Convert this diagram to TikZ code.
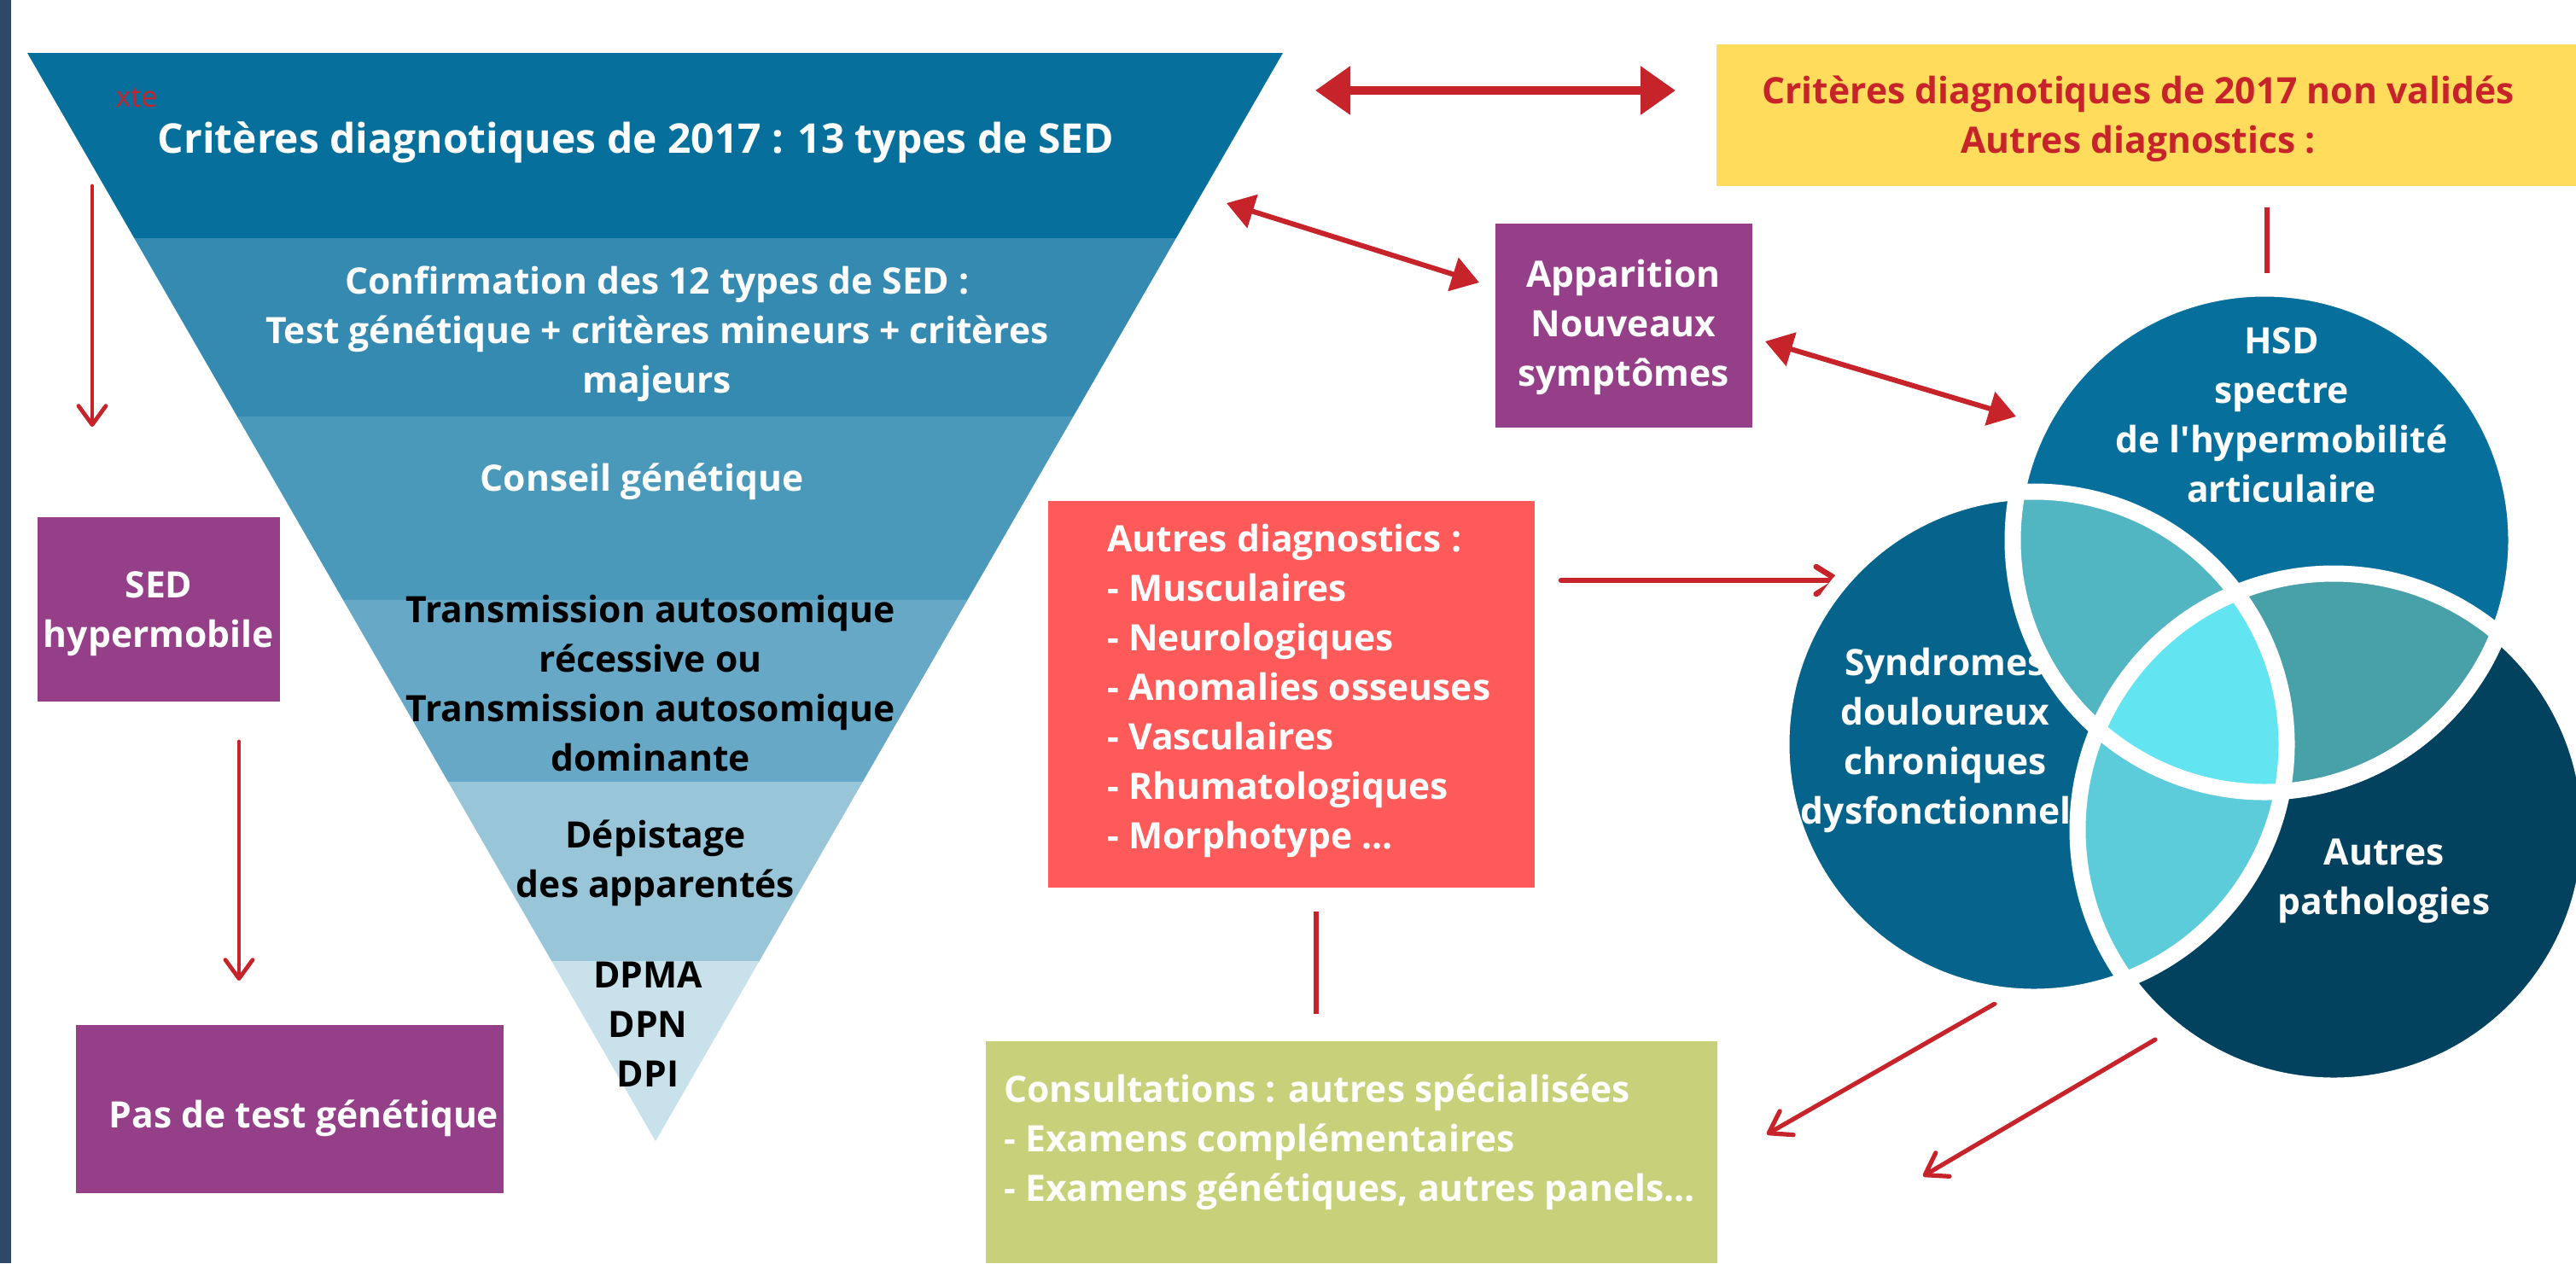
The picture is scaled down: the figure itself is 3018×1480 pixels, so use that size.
\documentclass[tikz,border=0pt]{standalone}
\usepackage{fontspec}
\setmainfont{Open Sans}[Ligatures=TeXOff]
\usetikzlibrary{arrows.meta,fit}
\definecolor{barc}{HTML}{2F4868}
\definecolor{bandA}{HTML}{066F9C}
\definecolor{bandB}{HTML}{358AB1}
\definecolor{bandC}{HTML}{4A99BB}
\definecolor{bandD}{HTML}{66A8C5}
\definecolor{bandE}{HTML}{99C5D9}
\definecolor{bandF}{HTML}{C9E1EA}
\definecolor{purp}{HTML}{943F88}
\definecolor{redbox}{HTML}{FF5A5A}
\definecolor{yell}{HTML}{FFDC5C}
\definecolor{greenbox}{HTML}{C6D17A}
\definecolor{arrred}{HTML}{C6242A}
\definecolor{hsdc}{HTML}{066F9C}
\definecolor{syndc}{HTML}{05638C}
\definecolor{autc}{HTML}{02425F}
\definecolor{hsOv}{HTML}{52B6C2}
\definecolor{haOv}{HTML}{48A1A9}
\definecolor{saOv}{HTML}{5DCCDA}
\definecolor{triOv}{HTML}{63E4F1}
\tikzset{
  boxnode/.style={inner sep=0pt, outer sep=0pt, draw=none},
  txt/.style={font=\bfseries\fontsize{21.3}{29}\selectfont, text=white, align=center, inner sep=0pt},
  txtl/.style={font=\bfseries\fontsize{21.3}{29}\selectfont, text=white, align=left, inner sep=0pt},
  thinarr/.style={draw=arrred, line width=2.4pt, line cap=round, -{Straight Barb[length=11pt,width=16pt,round]}},
  medarr/.style={draw=arrred, line width=3.3pt, line cap=round, -{Straight Barb[length=13pt,width=16pt,round]}},
  diagarr/.style={draw=arrred, line width=2.6pt, line cap=round, -{Straight Barb[length=12pt,width=16pt,round]}},
  bigdbl/.style={draw=arrred, fill=arrred, line width=4.6pt, {Triangle[length=20.5pt,width=27.5pt]}-{Triangle[length=20.5pt,width=27.5pt]}},
  dbl/.style={draw=arrred, fill=arrred, line width=3pt, {Triangle[length=16pt,width=20pt]}-{Triangle[length=16pt,width=20pt]}},
  plainline/.style={draw=arrred, line width=3pt},
  venn/.style={draw=white, line width=9.5pt}
}
\begin{document}
\begin{tikzpicture}[x=0.5pt,y=-0.5pt]
\useasboundingbox (0,0) rectangle (3018,1480);
\clip (0,0) rectangle (3018,1480);
\fill[white] (0,0) rectangle (3018,1480);
% left bar
\fill[barc] (0,0) rectangle (13,1480);

% funnel
\begin{scope}
\clip (32,62) -- (1503,62) -- (768,1337) -- cycle;
\fill[bandA] (0,62) rectangle (1600,279);
\fill[bandB] (0,279) rectangle (1600,488);
\fill[bandC] (0,488) rectangle (1600,703);
\fill[bandD] (0,703) rectangle (1600,916);
\fill[bandE] (0,916) rectangle (1600,1126);
\fill[bandF] (0,1126) rectangle (1600,1340);
\end{scope}
\node[font=\fontsize{17}{18}\selectfont, text=arrred, inner sep=0pt] (xte) at (160,114) {xte};
\node[txt, font=\bfseries\fontsize{24}{29}\selectfont] (t1) at (745,167) {Critères diagnotiques de 2017 : 13 types de SED};
\node[txt] (t2) at (770,391) {Confirmation des 12 types de SED :\\Test génétique + critères mineurs + critères\\majeurs};
\node[txt] (t3) at (752,564) {Conseil génétique};
\node[txt, text=black] (t4) at (762,801) {Transmission autosomique\\récessive ou\\Transmission autosomique\\dominante};
\node[txt, text=black] (t5) at (768,1011) {Dépistage\\des apparentés};
\node[txt, text=black] (t6) at (759,1200) {DPMA\\DPN\\DPI};

% left column
\node[boxnode, fill=purp, fit={(44,606) (328,822)}] (sed) {};
\node[txt] (sedt) at (186,719) {SED\\hypermobile};
\node[boxnode, fill=purp, fit={(89,1201) (590,1398)}] (pas) {};
\node[txt] (past) at (356,1310) {Pas de test génétique};
\coordinate (a1s) at (108,218);
\coordinate (a1e) at (108,500);
\coordinate (a2s) at (280,869);
\coordinate (a2e) at (280,1149);
\draw[thinarr] (a1s) -- (a1e);
\draw[thinarr] (a2s) -- (a2e);

% top middle
\node[boxnode, fill=yell, fit={(2011,52) (3018,218)}] (yel) {};
\node[txt, text=arrred] (yelt) at (2505,139) {Critères diagnotiques de 2017 non validés\\Autres diagnostics :};
\coordinate (d1a) at (1541,106);
\coordinate (d1b) at (1963,106);
\draw[bigdbl] (d1a) -- (d1b);
\coordinate (l1a) at (2656,243);
\coordinate (l1b) at (2656,320);
\draw[plainline, line width=2.6pt] (l1a) -- (l1b);

\node[boxnode, fill=purp, fit={(1752,262) (2053,501)}] (app) {};
\node[txt] (appt) at (1902,383) {Apparition\\Nouveaux\\symptômes};
\coordinate (d2a) at (1437,238);
\coordinate (d2b) at (1733,331);
\draw[dbl] (d2a) -- (d2b);
\coordinate (d3a) at (2068,400);
\coordinate (d3b) at (2362,488);
\draw[dbl] (d3a) -- (d3b);

% middle boxes
\node[boxnode, fill=redbox, fit={(1228,587) (1798,1040)}] (rb) {};
\node[txtl, anchor=west] (rbt) at (1297,809) {Autres diagnostics :\\- Musculaires\\- Neurologiques\\- Anomalies osseuses\\- Vasculaires\\- Rhumatologiques\\- Morphotype ...};
\coordinate (a3s) at (1829,680);
\coordinate (a3e) at (2157,680);
\draw[medarr] (a3s) -- (a3e);
\coordinate (l2a) at (1542,1068);
\coordinate (l2b) at (1542,1188);
\draw[plainline] (l2a) -- (l2b);
\node[boxnode, fill=greenbox, fit={(1155,1220) (2012,1480)}] (gb) {};
\node[txtl, anchor=west] (gbt) at (1176,1338) {Consultations : autres spécialisées\\- Examens complémentaires\\- Examens génétiques, autres panels...};
\coordinate (a4s) at (2337,1176);
\coordinate (a4e) at (2070,1329);
\draw[diagarr] (a4s) -- (a4e);
\coordinate (a5s) at (2525,1218);
\coordinate (a5e) at (2253,1378);
\draw[diagarr] (a5s) -- (a5e);

% Venn
\def\hsdpath{(2653,633) circle[radius=295]}
\def\synpath{(2383,872) circle[radius=296]}
\def\autpath{(2734,972) circle[radius=300]}
\fill[hsdc] \hsdpath;
\fill[syndc] \synpath;
\fill[autc] \autpath;
\node[txt] (synt) at (2279,867) {Syndromes\\douloureux\\chroniques\\dysfonctionnels};
\begin{scope}
\clip \hsdpath; \fill[hsOv] \synpath;
\end{scope}
\begin{scope}
\clip \hsdpath; \fill[haOv] \autpath;
\end{scope}
\begin{scope}
\clip \synpath; \fill[saOv] \autpath;
\end{scope}
\begin{scope}
\clip \hsdpath; \clip \synpath; \fill[triOv] \autpath;
\end{scope}
\draw[venn] \hsdpath;
\draw[venn] \synpath;
\draw[venn] \autpath;
\node[txt] (hsdt) at (2673,486) {HSD\\spectre\\de l'hypermobilité\\articulaire};
\node[txt] (autt) at (2793,1032) {Autres\\pathologies};
\end{tikzpicture}
\end{document}
